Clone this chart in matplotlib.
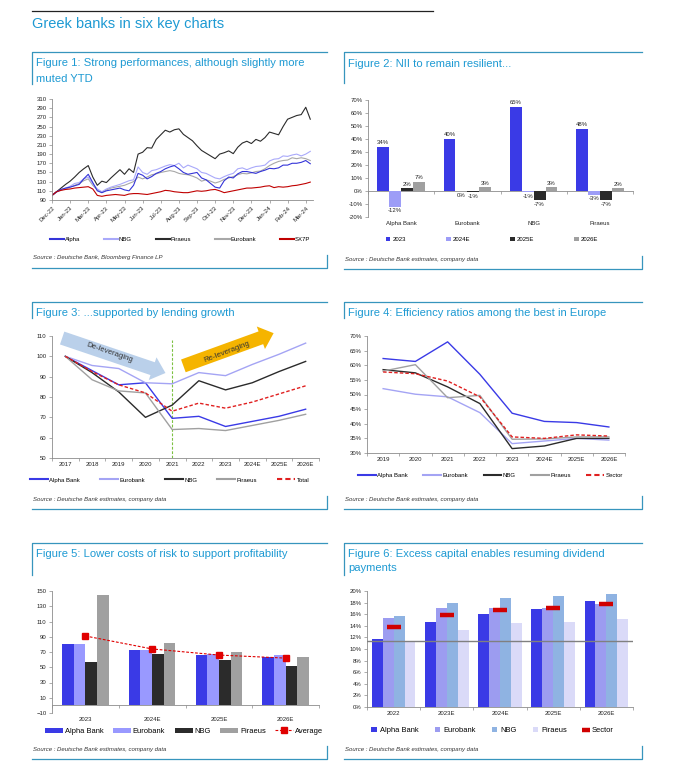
#!/usr/bin/env python3
"""Greek banks in six key charts."""

import numpy as np
import matplotlib
matplotlib.use("Agg")
import matplotlib.pyplot as plt
from matplotlib.lines import Line2D
from matplotlib.patches import FancyArrowPatch

plt.rcParams["font.family"] = ["Liberation Sans", "DejaVu Sans"]

# ---------------- data ----------------
# Figure 1: share price performance, rebased to 100 (sampled every ~8 days)
perf_ticks = ["Dec-22", "Jan-23", "Mar-23", "Apr-23", "May-23", "Jun-23", "Jul-23",
              "Aug-23", "Sep-23", "Oct-23", "Nov-23", "Dec-23", "Jan-24", "Feb-24", "Mar-24"]
perf_alpha = [100, 108, 113, 116, 118, 121, 124, 136, 146, 128, 110, 106, 110, 112, 114,
              116, 112, 110, 122, 148, 144, 136, 141, 148, 152, 158, 162, 165, 158, 150,
              146, 148, 150, 138, 134, 126, 118, 116, 132, 140, 138, 147, 152, 152, 150,
              148, 152, 155, 159, 158, 160, 166, 166, 170, 170, 172, 176, 169]
perf_nbg = [100, 107, 112, 116, 120, 126, 128, 136, 140, 125, 114, 108, 114, 118, 121,
            124, 128, 132, 134, 162, 150, 146, 154, 156, 160, 164, 167, 165, 170, 160,
            166, 162, 158, 150, 148, 143, 138, 136, 141, 145, 148, 158, 160, 156, 160,
            163, 164, 166, 175, 179, 180, 186, 185, 188, 190, 186, 190, 196]
perf_piraeus = [100, 108, 116, 124, 131, 140, 150, 158, 165, 140, 122, 131, 128, 138, 147,
                156, 146, 158, 150, 190, 194, 204, 203, 222, 232, 242, 238, 243, 245, 233,
                226, 219, 208, 198, 192, 186, 180, 190, 193, 197, 191, 205, 214, 218, 213,
                222, 218, 226, 238, 235, 232, 250, 266, 270, 274, 276, 292, 266]
perf_eurobank = [100, 108, 112, 114, 118, 122, 126, 132, 136, 122, 112, 106, 112, 116, 118,
                 120, 122, 126, 130, 140, 136, 140, 145, 147, 150, 152, 154, 152, 148, 146,
                 145, 142, 138, 131, 134, 131, 127, 130, 135, 138, 141, 145, 148, 147, 149,
                 152, 153, 158, 165, 170, 174, 176, 177, 182, 180, 182, 180, 176]
perf_sx7p = [100, 108, 111, 113, 114, 116, 117, 118, 119, 114, 100, 98, 100, 101, 102,
             101, 100, 103, 104, 104, 103, 102, 104, 106, 108, 111, 110, 108, 107, 106,
             106, 108, 110, 109, 110, 112, 113, 110, 106, 108, 110, 112, 114, 116, 116,
             117, 118, 120, 121, 117, 119, 118, 119, 121, 122, 124, 126, 129]

# Figure 2: NII growth (%)
nii_banks = ["Alpha Bank", "Eurobank", "NBG", "Piraeus"]
nii_years = ["2023", "2024E", "2025E", "2026E"]
nii_2023 = [34, 40, 65, 48]
nii_2024e = [-12, 0, -1, -3]
nii_2025e = [2, -1, -7, -7]
nii_2026e = [7, 3, 3, 2]

# Figure 3: loan book, 2017 = 100
loan_years = ["2017", "2018", "2019", "2020", "2021", "2022", "2023", "2024E", "2025E", "2026E"]
loan_alpha = [100, 93, 86, 87, 69.5, 70.5, 65.5, 68, 70.5, 74]
loan_eurobank = [100, 95.5, 94, 87, 86.5, 92, 90.5, 96, 101, 106.5]
loan_nbg = [100, 92, 82.5, 70, 76, 88, 83.5, 87, 92.5, 97.5]
loan_piraeus = [100, 88.5, 83, 82, 64, 64.5, 63.5, 66, 68.5, 71.5]
loan_total = [100, 92.5, 86, 82, 73, 77, 74.5, 77.5, 81.5, 85.5]

# Figure 4: cost/income ratio (%)
eff_years = ["2019", "2020", "2021", "2022", "2023", "2024E", "2025E", "2026E"]
eff_alpha = [62.3, 61.3, 68, 56.9, 43.6, 40.8, 40.4, 38.9]
eff_eurobank = [52, 50.1, 49.2, 43.8, 33.2, 34.1, 35, 34.4]
eff_nbg = [58.5, 57.4, 52.6, 46.9, 31.5, 32.4, 35, 35]
eff_piraeus = [58, 60.2, 48.9, 49.7, 34.7, 34.8, 35.5, 35.5]
eff_sector = [57.7, 57.1, 54.6, 49.2, 35.5, 35, 36.2, 35.8]

# Figure 5: cost of risk (bp)
cor_years = ["2023", "2024E", "2025E", "2026E"]
cor_alpha = [81, 72, 66, 63]
cor_eurobank = [80, 73, 67, 66]
cor_nbg = [57, 67, 60, 52]
cor_piraeus = [145, 82, 70, 64]
cor_average = [91, 74, 66, 62]

# Figure 6: CET1 ratio (%)
cap_years = ["2022", "2023E", "2024E", "2025E", "2026E"]
cap_alpha = [11.8, 14.6, 16.1, 16.9, 18.2]
cap_eurobank = [15.3, 17.0, 17.1, 17.0, 17.7]
cap_nbg = [15.7, 17.9, 18.8, 19.1, 19.4]
cap_piraeus = [11.4, 13.3, 14.5, 14.6, 15.1]
cap_sector = [13.8, 15.9, 16.8, 17.1, 17.7]
cap_requirement = 11.4

# ---------------- style ----------------
W, H = 679, 781
TITLE = "#1e9ad3"
BOX = "#3795bd"
AXIS = "#8c8c8c"
TXT = "#222222"
BLUE = "#3a3ae6"
LILAC = "#9d9df7"
DARK = "#2b2b2b"
GREY = "#a0a0a0"
FS = 4.3


def px_axes(fig, left, top, right, bottom):
    return fig.add_axes([left / W, 1 - bottom / H, (right - left) / W, (bottom - top) / H])


def fig_line(fig, xs, ys, **kw):
    fig.add_artist(Line2D([x / W for x in xs], [1 - y / H for y in ys],
                          transform=fig.transFigure, **kw))


def fig_text(fig, x, y, s, **kw):
    fig.text(x / W, 1 - y / H, s, **kw)


def panel_frame(fig, x0, x1, top, head_bottom, bottom, titles, source):
    fig_line(fig, [x0, x0, x1], [head_bottom, top, top], color=BOX, lw=0.9)
    fig_line(fig, [x0, x1, x1], [bottom, bottom, bottom - 13], color=BOX, lw=0.9)
    for y, s in titles:
        fig_text(fig, x0 + 4, y, s, color=TITLE, fontsize=8.1, va="center")
    fig_text(fig, x0 + 1, bottom - 10, source, fontsize=4.3, style="italic",
             color="#333333", va="center")


def style_axes(ax):
    for s in ("top", "right"):
        ax.spines[s].set_visible(False)
    for s in ("left", "bottom"):
        ax.spines[s].set_color(AXIS)
        ax.spines[s].set_linewidth(0.6)
    ax.tick_params(axis="both", labelsize=FS, labelcolor=TXT, color=AXIS,
                   length=2, width=0.5, pad=2)


def category_axis(ax, labels, zero_frac=None):
    n = len(labels)
    ax.set_xlim(-0.5, n - 0.5)
    ax.set_xticks(np.arange(n))
    ax.set_xticklabels(labels)
    ax.set_xticks(np.arange(n + 1) - 0.5, minor=True)
    ax.tick_params(axis="x", which="major", length=0, pad=3)
    ax.tick_params(axis="x", which="minor", length=2.2, color=AXIS, width=0.5)
    if zero_frac is not None:
        ax.spines["bottom"].set_visible(False)
        ax.tick_params(axis="x", which="minor", length=0)
        sec = ax.secondary_xaxis(zero_frac)
        sec.set_xticks(np.arange(n + 1) - 0.5)
        sec.tick_params(labelbottom=False, length=2.2, color=AXIS, width=0.5)
        sec.spines["bottom"].set_color(AXIS)
        sec.spines["bottom"].set_linewidth(0.6)


def pct(ax):
    ax.set_yticklabels([f"{v:.0f}%" for v in ax.get_yticks()])


def thick_handles(leg, lw=1.5):
    for h in leg.get_lines():
        h.set_linewidth(lw)


fig = plt.figure(figsize=(W / 100, H / 100), dpi=100)

fig_line(fig, [32, 433], [11, 11], color="#222222", lw=0.9)
fig_text(fig, 32, 24, "Greek banks in six key charts", color=TITLE, fontsize=10.5, va="center")

# ---------------- Figure 1 ----------------
panel_frame(fig, 32, 327, 52, 84, 268,
            [(63, "Figure 1: Strong performances, although slightly more"), (79, "muted YTD")],
            "Source : Deutsche Bank, Bloomberg Finance LP")
ax1 = px_axes(fig, 52, 99, 313, 200)
style_axes(ax1)
x = np.arange(len(perf_alpha))
l_eur, = ax1.plot(x, perf_eurobank, color="#a8a8a8", lw=0.8, label="Eurobank")
l_nbg, = ax1.plot(x, perf_nbg, color="#a9a9fa", lw=0.8, label="NBG")
l_pir, = ax1.plot(x, perf_piraeus, color=DARK, lw=0.8, label="Piraeus")
l_alp, = ax1.plot(x, perf_alpha, color="#3434d8", lw=0.8, label="Alpha")
l_sx, = ax1.plot(x, perf_sx7p, color="#c00000", lw=0.8, label="SX7P")
ax1.set_ylim(90, 310)
ax1.set_yticks(np.arange(90, 311, 20))
ax1.set_xlim(0, 57.6)
ax1.set_xticks(np.arange(len(perf_ticks)) * 4)
ax1.set_xticklabels(perf_ticks, rotation=45, ha="right", rotation_mode="anchor")
leg1 = ax1.legend(handles=[l_alp, l_nbg, l_pir, l_eur, l_sx], loc="center",
                  bbox_to_anchor=(0.49, -0.39), ncol=5, frameon=False, fontsize=FS,
                  handlelength=2.4, handletextpad=0.1, columnspacing=4.0)
thick_handles(leg1)

# ---------------- Figure 2 ----------------
panel_frame(fig, 344, 642, 52, 83, 269,
            [(64, "Figure 2: NII to remain resilient...")],
            "Source : Deutsche Bank estimates, company data")
ax2 = px_axes(fig, 368, 100, 633, 217)
style_axes(ax2)
xb = np.arange(len(nii_banks))
bw = 0.18
for i, (vals, col) in enumerate(zip([nii_2023, nii_2024e, nii_2025e, nii_2026e],
                                    [BLUE, LILAC, DARK, GREY])):
    xs = xb + (i - 1.5) * bw
    ax2.bar(xs, vals, bw, color=col, label=nii_years[i], zorder=2)
    for xi, v in zip(xs, vals):
        ax2.text(xi, v + (1.2 if v > 0 else -1.2), f"{v}%", ha="center",
                 va="bottom" if v > 0 else "top", fontsize=FS, color=TXT)
ax2.set_ylim(-20, 70)
ax2.set_yticks(np.arange(-20, 71, 10))
pct(ax2)
category_axis(ax2, nii_banks, zero_frac=20 / 90)
ax2.legend(loc="center", bbox_to_anchor=(0.468, -0.19), ncol=4, frameon=False,
           fontsize=FS, handlelength=0.7, handleheight=0.7, handletextpad=0.3,
           columnspacing=6.8)

# ---------------- Figure 3 ----------------
panel_frame(fig, 32, 327, 302, 318, 509,
            [(313, "Figure 3: ...supported by lending growth")],
            "Source : Deutsche Bank estimates, company data")
ax3 = px_axes(fig, 52, 336, 319, 458)
style_axes(ax3)
xl = np.arange(len(loan_years))
ax3.plot(xl, loan_alpha, color=BLUE, lw=1, label="Alpha Bank", zorder=4)
ax3.plot(xl, loan_eurobank, color="#a4a4f4", lw=1, label="Eurobank", zorder=4)
ax3.plot(xl, loan_nbg, color=DARK, lw=1, label="NBG", zorder=4)
ax3.plot(xl, loan_piraeus, color=GREY, lw=1, label="Piraeus", zorder=4)
ax3.plot(xl, loan_total, color="#e02020", lw=1, ls=(0, (2.5, 1.5)), label="Total", zorder=5)
ax3.set_ylim(50, 110)
ax3.set_yticks(np.arange(50, 111, 10))
category_axis(ax3, loan_years)
ax3.axvline(4, ymax=0.965, color="#7dc142", lw=0.8, ls=(0, (2.5, 1.5)), zorder=3)
arrow_style = "simple,head_length=1.3,head_width=2.3,tail_width=1.3"
ax3.add_patch(FancyArrowPatch((-0.12, 109.0), (3.75, 91.8), arrowstyle=arrow_style,
                              mutation_scale=7.5, color="#bad0ea", lw=0, shrinkA=0, shrinkB=0,
                              clip_on=False, zorder=1))
ax3.add_patch(FancyArrowPatch((4.42, 95.3), (7.8, 111.4), arrowstyle=arrow_style,
                              mutation_scale=7.5, color="#f5b400", lw=0, shrinkA=0, shrinkB=0,
                              clip_on=False, zorder=1))
ax3.text(1.65, 101.6, "De-leveraging", rotation=-19, fontsize=5.6, color="#333333",
         ha="center", va="center", zorder=6)
ax3.text(6.05, 102.2, "Re-leveraging", rotation=21, fontsize=5.6, color="#333333",
         ha="center", va="center", zorder=6)
leg3 = ax3.legend(loc="center", bbox_to_anchor=(0.44, -0.18), ncol=5, frameon=False,
                  fontsize=FS, handlelength=3.0, handletextpad=0.2, columnspacing=3.4)
thick_handles(leg3)

# ---------------- Figure 4 ----------------
panel_frame(fig, 344, 642, 302, 318, 509,
            [(313, "Figure 4: Efficiency ratios among the best in Europe")],
            "Source : Deutsche Bank estimates, company data")
ax4 = px_axes(fig, 367, 336, 625, 453)
style_axes(ax4)
xe = np.arange(len(eff_years))
ax4.plot(xe, eff_alpha, color=BLUE, lw=1, label="Alpha Bank")
ax4.plot(xe, eff_eurobank, color="#a4a4f4", lw=1, label="Eurobank")
ax4.plot(xe, eff_nbg, color=DARK, lw=1, label="NBG")
ax4.plot(xe, eff_piraeus, color=GREY, lw=1, label="Piraeus")
ax4.plot(xe, eff_sector, color="#e02020", lw=1, ls=(0, (2.5, 1.5)), label="Sector")
ax4.set_ylim(30, 70)
ax4.set_yticks(np.arange(30, 71, 5))
pct(ax4)
category_axis(ax4, eff_years)
leg4 = ax4.legend(loc="center", bbox_to_anchor=(0.478, -0.19), ncol=5, frameon=False,
                  fontsize=FS, handlelength=3.0, handletextpad=0.2, columnspacing=2.6)
thick_handles(leg4)

# ---------------- Figure 5 ----------------
panel_frame(fig, 32, 327, 543, 575, 759,
            [(554, "Figure 5: Lower costs of risk to support profitability")],
            "Source : Deutsche Bank estimates, company data")
ax5 = px_axes(fig, 52, 591, 319, 713)
style_axes(ax5)
xc = np.arange(len(cor_years))
bw5 = 0.175
bars5 = []
for i, (vals, col, lab) in enumerate(zip([cor_alpha, cor_eurobank, cor_nbg, cor_piraeus],
                                         [BLUE, "#9999ff", DARK, GREY],
                                         ["Alpha Bank", "Eurobank", "NBG", "Piraeus"])):
    bars5.append(ax5.bar(xc + (i - 1.5) * bw5, vals, bw5, color=col, label=lab, zorder=2))
avg_line, = ax5.plot(xc, cor_average, color="#e00000", lw=0.8, ls=(0, (2.5, 1.5)),
                     marker="s", markersize=4.2, label="Average", zorder=4)
ax5.set_ylim(-10, 150)
ax5.set_yticks(np.arange(-10, 151, 20))
category_axis(ax5, cor_years, zero_frac=10 / 160)
ax5.legend(handles=bars5 + [avg_line], loc="center", bbox_to_anchor=(0.495, -0.15),
           ncol=5, frameon=False, fontsize=5.4, handlelength=2.4, handleheight=0.6,
           handletextpad=0.2, columnspacing=1.3)

# ---------------- Figure 6 ----------------
panel_frame(fig, 344, 642, 543, 575, 759,
            [(554, "Figure 6: Excess capital enables resuming dividend"), (568, "payments")],
            "Source : Deutsche Bank estimates, company data")
ax6 = px_axes(fig, 367, 591, 633, 707)
style_axes(ax6)
xk = np.arange(len(cap_years))
bw6 = 0.205
bars6 = []
for i, (vals, col, lab) in enumerate(zip([cap_alpha, cap_eurobank, cap_nbg, cap_piraeus],
                                         [BLUE, "#9c9cf0", "#8fb3e2", "#dadaf8"],
                                         ["Alpha Bank", "Eurobank", "NBG", "Piraeus"])):
    bars6.append(ax6.bar(xk + (i - 1.5) * bw6, vals, bw6, color=col, label=lab, zorder=2))
ax6.axhline(cap_requirement, color="#808080", lw=1, zorder=3)
sector_mk, = ax6.plot(xk, cap_sector, ls="none", marker="_", markersize=10.5, mew=3.2,
                      color="#d00000", label="Sector", zorder=4)
ax6.set_ylim(0, 20)
ax6.set_yticks(np.arange(0, 21, 2))
pct(ax6)
category_axis(ax6, cap_years)
ax6.legend(handles=bars6 + [sector_mk], loc="center", bbox_to_anchor=(0.472, -0.205),
           ncol=5, frameon=False, fontsize=5.4, handlelength=0.7, handleheight=0.7,
           handletextpad=0.4, columnspacing=2.2, markerscale=0.6)

fig.savefig("out.png", dpi=100)
plt.close(fig)
